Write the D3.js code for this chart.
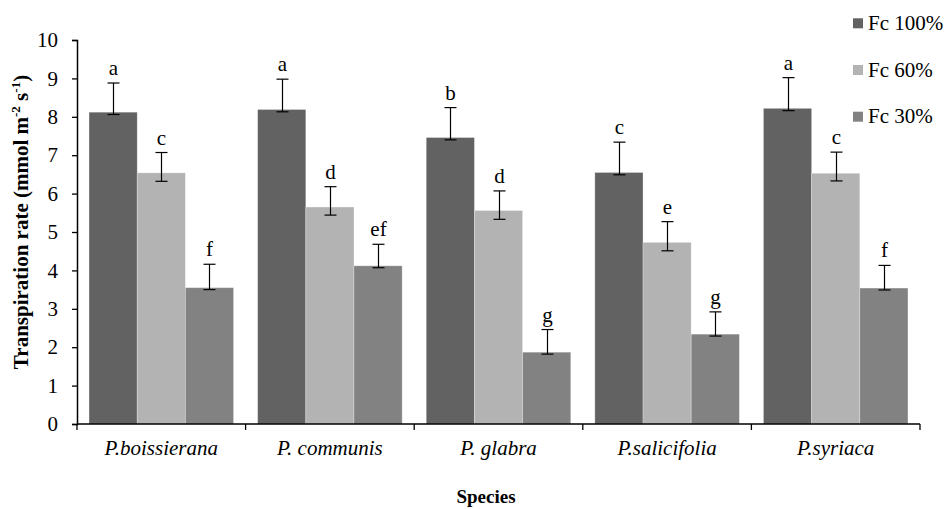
<!DOCTYPE html>
<html>
<head>
<meta charset="utf-8">
<script src="https://cdn.jsdelivr.net/npm/d3@7"></script>
<style>
  html, body { margin: 0; padding: 0; background: #fff; }
  svg { display: block; font-family: "Liberation Serif", "Times New Roman", serif; }
</style>
</head>
<body>
<svg id="chart" width="952" height="509"></svg>
<script>
// Transpiration rate by species and field-capacity treatment
const species = ["P.boissierana", "P. communis", "P. glabra", "P.salicifolia", "P.syriaca"];
const seriesNames = ["Fc 100%", "Fc 60%", "Fc 30%"];
const seriesColors = ["#626262", "#b3b3b3", "#828282"];

const fc100 = [8.12, 8.19, 7.46, 6.55, 8.22];
const fc60  = [6.54, 5.65, 5.56, 4.73, 6.53];
const fc30  = [3.55, 4.12, 1.87, 2.34, 3.54];

// error bar upper and lower ends
const fc100Hi = [8.88, 8.98, 8.24, 7.34, 9.02];
const fc60Hi  = [7.07, 6.18, 6.07, 5.27, 7.08];
const fc30Hi  = [4.16, 4.68, 2.46, 2.92, 4.13];
const fc100Lo = [8.06, 8.13, 7.40, 6.49, 8.16];
const fc60Lo  = [6.32, 5.44, 5.33, 4.51, 6.33];
const fc30Lo  = [3.50, 4.07, 1.82, 2.29, 3.49];

// significance letters
const fc100Letters = ["a", "a", "b", "c", "a"];
const fc60Letters  = ["c", "d", "d", "e", "c"];
const fc30Letters  = ["f", "ef", "g", "g", "f"];

const yTicks = [0, 1, 2, 3, 4, 5, 6, 7, 8, 9, 10];

const values = [fc100, fc60, fc30];
const his = [fc100Hi, fc60Hi, fc30Hi];
const los = [fc100Lo, fc60Lo, fc30Lo];
const letters = [fc100Letters, fc60Letters, fc30Letters];

const svg = d3.select("#chart");
const margin = { left: 77, right: 32, top: 40, bottom: 85 };
const W = 952, H = 509;
const serif = "'Liberation Serif', 'Times New Roman', serif";

const x = d3.scaleBand().domain(species).range([margin.left, W - margin.right]).paddingInner(0).paddingOuter(0);
const xi = d3.scaleBand().domain(d3.range(3)).range([0, x.bandwidth()]).paddingInner(0).paddingOuter(0.25);
const y = d3.scaleLinear().domain([0, 10]).range([H - margin.bottom, margin.top]);

// bars, error bars and letters
seriesNames.forEach((name, s) => {
  const g = svg.append("g");
  g.selectAll("rect").data(species).join("rect")
    .attr("x", d => x(d) + xi(s))
    .attr("y", (d, i) => y(values[s][i]))
    .attr("width", xi.bandwidth())
    .attr("height", (d, i) => y(0) - y(values[s][i]))
    .attr("fill", seriesColors[s])
    .attr("stroke", "#ffffff")
    .attr("stroke-opacity", 0.35)
    .attr("stroke-width", 0.8);

  const capW = 6;
  species.forEach((sp, i) => {
    const cx = Math.round(x(sp) + xi(s) + xi.bandwidth() / 2) + 0.5;
    const yh = y(his[s][i]), yl = y(los[s][i]);
    g.append("line").attr("x1", cx).attr("x2", cx).attr("y1", yh).attr("y2", yl)
      .attr("stroke", "#000").attr("stroke-width", 1.2);
    [yh, yl].forEach(yy => g.append("line")
      .attr("x1", cx - capW).attr("x2", cx + capW).attr("y1", yy).attr("y2", yy)
      .attr("stroke", "#000").attr("stroke-width", 1.2));
    g.append("text")
      .attr("x", cx).attr("y", yh - 8)
      .attr("text-anchor", "middle")
      .attr("font-size", 21)
      .attr("fill", "#000")
      .text(letters[s][i]);
  });
});

// y axis
const yAxis = svg.append("g")
  .attr("transform", `translate(${margin.left},0)`)
  .call(d3.axisLeft(y).tickValues(yTicks).tickSize(5).tickPadding(14).tickFormat(d3.format("d")));
yAxis.select(".domain").attr("stroke", "#000").attr("stroke-width", 1.5);
yAxis.selectAll(".tick line").attr("stroke", "#000").attr("stroke-width", 1.3);
yAxis.selectAll("text").attr("font-size", 21).attr("fill", "#000").attr("font-family", serif);

// x axis with ticks at category boundaries
const xAxisG = svg.append("g").attr("transform", `translate(0,${y(0)})`);
xAxisG.append("line")
  .attr("x1", margin.left).attr("x2", W - margin.right)
  .attr("stroke", "#000").attr("stroke-width", 1.5);
const bounds = species.map(d => x(d)).concat([x(species[species.length - 1]) + x.bandwidth()]);
xAxisG.selectAll("line.tk").data(bounds).join("line").attr("class", "tk")
  .attr("x1", d => d).attr("x2", d => d).attr("y1", 0).attr("y2", 6)
  .attr("stroke", "#000").attr("stroke-width", 1.3);
xAxisG.selectAll("text").data(species).join("text")
  .attr("x", d => x(d) + x.bandwidth() / 2)
  .attr("y", 31)
  .attr("text-anchor", "middle")
  .attr("font-size", 21)
  .attr("font-style", "italic")
  .attr("fill", "#000")
  .text(d => d);

// axis titles
svg.append("text")
  .attr("x", 486).attr("y", 503)
  .attr("text-anchor", "middle")
  .attr("font-size", 19)
  .attr("font-weight", "bold")
  .text("Species");

const yTitle = svg.append("text")
  .attr("transform", `translate(28,${222}) rotate(-90)`)
  .attr("text-anchor", "middle")
  .attr("font-size", 21)
  .attr("font-weight", "bold");
yTitle.append("tspan").text("Transpiration rate (mmol m");
yTitle.append("tspan").attr("font-size", 13).attr("dy", -8).text("-2");
yTitle.append("tspan").attr("dy", 8).text(" s");
yTitle.append("tspan").attr("font-size", 13).attr("dy", -8).text("-1");
yTitle.append("tspan").attr("dy", 8).text(")");

// legend
const legend = svg.append("g");
seriesNames.forEach((name, s) => {
  const ly = 23.3 + s * 46.7;
  legend.append("rect").attr("x", 853).attr("y", ly - 5).attr("width", 10).attr("height", 10)
    .attr("fill", seriesColors[s]);
  legend.append("text").attr("x", 868).attr("y", ly + 6.5)
    .attr("font-size", 21).attr("fill", "#000").text(name);
});
</script>
</body>
</html>
